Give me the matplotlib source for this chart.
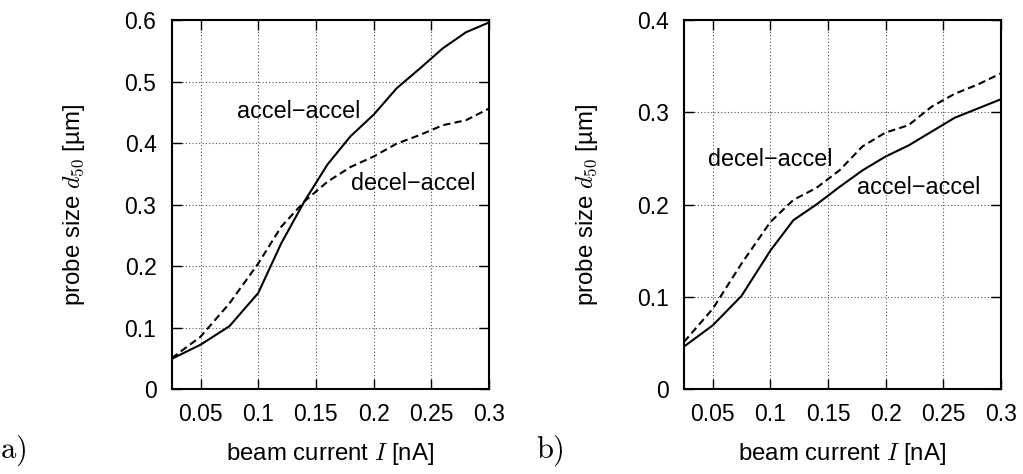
import matplotlib
matplotlib.use("Agg")
import matplotlib.pyplot as plt
from matplotlib.ticker import FixedLocator, FixedFormatter

plt.rcParams['font.family'] = ['Liberation Sans', 'DejaVu Sans']
plt.rcParams['mathtext.fontset'] = 'cm'

# ---- data ----
current = [0.025, 0.05, 0.075, 0.1, 0.12, 0.14, 0.16, 0.18, 0.2, 0.22, 0.24, 0.26, 0.28, 0.3]

a_accel = [0.049, 0.072, 0.102, 0.156, 0.237, 0.305, 0.365, 0.411, 0.446, 0.489, 0.521, 0.554, 0.580, 0.596]
a_decel = [0.050, 0.085, 0.139, 0.204, 0.264, 0.305, 0.337, 0.361, 0.378, 0.399, 0.413, 0.429, 0.437, 0.456]

b_accel = [0.046, 0.069, 0.101, 0.150, 0.183, 0.200, 0.219, 0.237, 0.252, 0.264, 0.279, 0.294, 0.304, 0.314]
b_decel = [0.051, 0.087, 0.136, 0.181, 0.205, 0.218, 0.237, 0.263, 0.278, 0.286, 0.306, 0.320, 0.330, 0.342]

x_ticks = [0.05, 0.1, 0.15, 0.2, 0.25, 0.3]
x_ticklabels = ['0.05', '0.1', '0.15', '0.2', '0.25', '0.3']
a_yticks = [0, 0.1, 0.2, 0.3, 0.4, 0.5, 0.6]
a_yticklabels = ['0', '0.1', '0.2', '0.3', '0.4', '0.5', '0.6']
b_yticks = [0, 0.1, 0.2, 0.3, 0.4]
b_yticklabels = ['0', '0.1', '0.2', '0.3', '0.4']

xlabel = r'beam current $I$ [nA]'
ylabel = r'probe size $d_{50}$ [µm]'

fig = plt.figure(figsize=(10.23, 4.74), dpi=100)
axA = fig.add_axes([0.1678, 0.1793, 0.3102, 0.7785])
axB = fig.add_axes([0.6686, 0.1793, 0.3096, 0.7785])


def style(ax, yticks, yticklabels, ymax):
    ax.set_xlim(0.025, 0.3)
    ax.set_ylim(0, ymax)
    ax.xaxis.set_major_locator(FixedLocator(x_ticks))
    ax.xaxis.set_major_formatter(FixedFormatter(x_ticklabels))
    ax.yaxis.set_major_locator(FixedLocator(yticks))
    ax.yaxis.set_major_formatter(FixedFormatter(yticklabels))
    ax.tick_params(direction='in', length=7, width=1.0, top=True, right=True,
                   labelsize=16.5, colors='black')
    ax.tick_params(axis='y', pad=11)
    ax.tick_params(axis='x', pad=10)
    ax.grid(True, linestyle=(0, (1, 2)), color='#555555', linewidth=0.8)
    for s in ax.spines.values():
        s.set_linewidth(1.5)
    ax.set_xlabel(xlabel, fontsize=17.3)
    ax.set_ylabel(ylabel, fontsize=17.3)
    ax.xaxis.set_label_coords(0.5, -0.14)
    ax.yaxis.set_label_coords(-0.266, 0.5)


axA.plot(current, a_accel, color='black', lw=1.5, linestyle='-')
axA.plot(current, a_decel, color='black', lw=1.5, linestyle=(0, (3.5, 2)))
style(axA, a_yticks, a_yticklabels, 0.6)
axA.text(0.135, 0.451, 'accel\u2212accel', fontsize=16.8, ha='center', va='center')
axA.text(0.234, 0.334, 'decel\u2212accel', fontsize=16.8, ha='center', va='center')

axB.plot(current, b_accel, color='black', lw=1.5, linestyle='-')
axB.plot(current, b_decel, color='black', lw=1.5, linestyle=(0, (3.5, 2)))
style(axB, b_yticks, b_yticklabels, 0.4)
axB.text(0.0997, 0.249, 'decel\u2212accel', fontsize=16.8, ha='center', va='center')
axB.text(0.229, 0.218, 'accel\u2212accel', fontsize=16.8, ha='center', va='center')

fig.text(0.0, 0.035, r'$\mathrm{a)}$', fontsize=22, ha='left', va='baseline')
fig.text(0.524, 0.035, r'$\mathrm{b)}$', fontsize=22, ha='left', va='baseline')

fig.savefig('out.png', dpi=100)
